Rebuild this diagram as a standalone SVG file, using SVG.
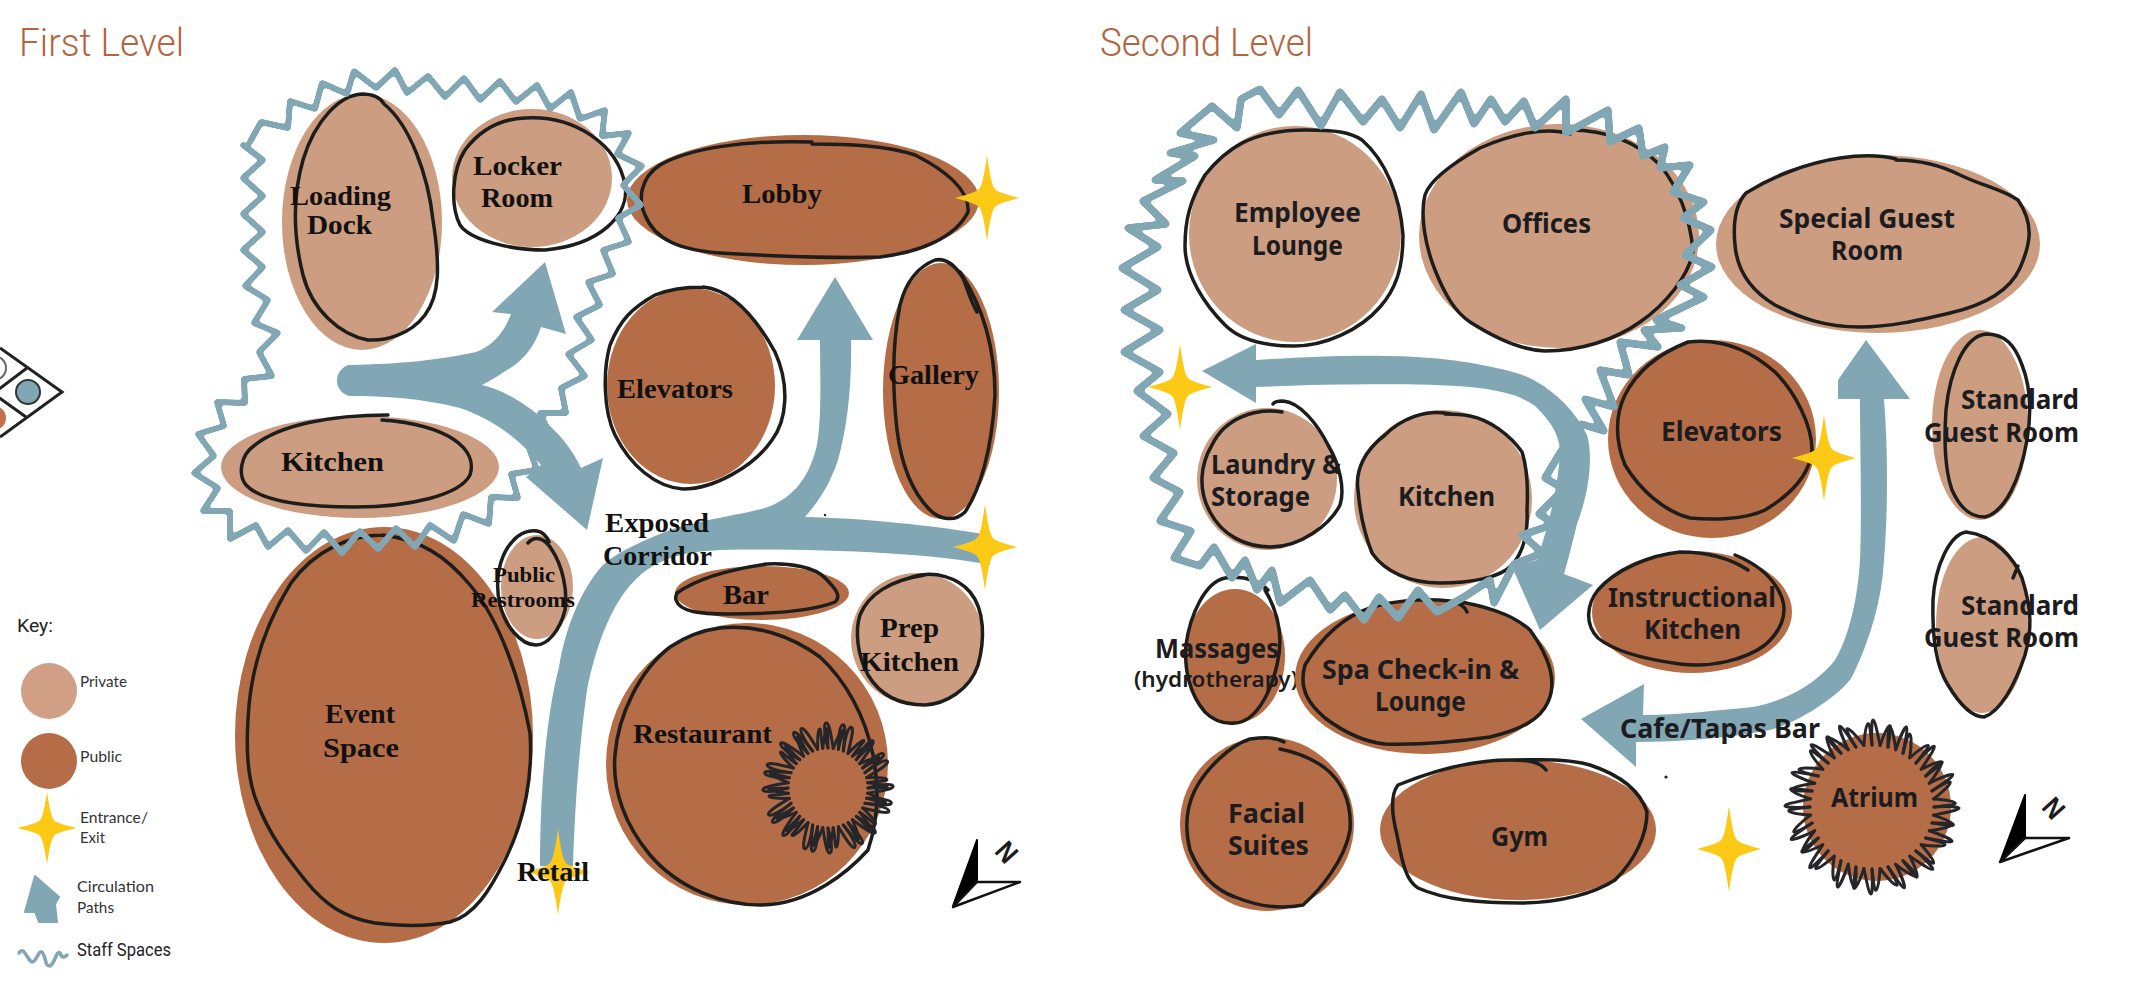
<svg xmlns="http://www.w3.org/2000/svg" width="2133" height="993" viewBox="0 0 2133 993">
<style>
.pv{fill:#CC9D80}.pb{fill:#B46D46}
.ink{fill:none;stroke:#1d1d1b;stroke-width:3.5;stroke-linecap:round;stroke-linejoin:round}
.sc{fill:none;stroke:#26262a;stroke-width:3;stroke-linejoin:round;stroke-linecap:round}
.wave{fill:none;stroke:#82A7B4;stroke-linejoin:round;stroke-linecap:round}
.arr{fill:#82A7B4}.st{fill:#FCC917}
text{font-family:"Liberation Sans",sans-serif;fill:#1c1c20}
.a{font-family:"Liberation Serif",serif;font-weight:700;font-size:28px;fill:#111}
.a2{font-family:"Liberation Serif",serif;font-weight:700;font-size:21px;fill:#111}
.b{font-family:"Noto Sans",sans-serif;font-weight:700;font-size:27px}
.b2{font-family:"Noto Sans",sans-serif;font-weight:600;font-size:22px}
.t{font-family:Roboto,sans-serif;font-weight:300;font-size:38px;fill:#B3653F}
.k{font-family:Lato,sans-serif;font-size:16px;fill:#333}
.k2{font-family:Roboto,sans-serif;font-size:18px;fill:#222}
</style>
<defs>
<filter id="soft" filterUnits="userSpaceOnUse" x="0" y="0" width="2133" height="993" color-interpolation-filters="sRGB">
<feGaussianBlur stdDeviation="1.7"/>
<feComponentTransfer><feFuncA type="linear" slope="7" intercept="-2.9"/></feComponentTransfer>
</filter>
<path id="star" d="M0 -43C3 -22 5 -11 9 -8C13 -5 22 -3 32 0C22 3 13 5 9 8C5 11 3 22 0 43C-3 22 -5 11 -9 8C-13 5 -22 3 -32 0C-22 -3 -13 -5 -9 -8C-5 -11 -3 -22 0 -43Z"/>
<path id="spA" d="M62 0C76 -1 86 0 87 1C87 3 76 5 61.5 8.1"/>
<path id="spB" d="M62 0C72 2 82 5 83 7C83 9 74 8 61.5 8.1"/>
<path id="spE" d="M62 0C72 -3 80 -5 82 -4C83 -2 72 4 61.5 8.1"/>
<g id="atr"><use href="#spA"/><use href="#spB" transform="rotate(7.5)"/><use href="#spE" transform="rotate(15)"/><use href="#spA" transform="rotate(22.5)"/><use href="#spE" transform="rotate(30)"/><use href="#spB" transform="rotate(37.5)"/></g>
<path id="spC" d="M40 0C50 -3 64 -5 65 -2C66 1 54 3 39.7 5.2"/>
<path id="spD" d="M40 0C48 2 58 5 59 7C60 9 52 6 39.7 5.2"/>
<g id="res"><use href="#spC"/><use href="#spD" transform="rotate(7.5)"/><use href="#spC" transform="rotate(15)"/><use href="#spC" transform="rotate(22.5)"/><use href="#spD" transform="rotate(30)"/><use href="#spD" transform="rotate(37.5)"/></g>
</defs>
<rect width="2133" height="993" fill="#fff"/>

<text class="t" x="19" y="56" textLength="165" lengthAdjust="spacingAndGlyphs">First Level</text>
<text class="t" x="1100" y="56" textLength="213" lengthAdjust="spacingAndGlyphs">Second Level</text>

<g id="fragment" fill="none" stroke="#222" stroke-width="3">
<circle cx="-6" cy="368" r="12" fill="#fff" stroke="#666" stroke-width="2"/>
<circle cx="-6" cy="418" r="12" fill="#C66E4C" stroke="none"/>
<circle cx="28" cy="392" r="12" fill="#82A7B4" stroke="#333" stroke-width="2"/>
<path d="M0 348L62 392L0 437M27 368L-2 390M26 417L-2 397"/>
</g>

<g id="key">
<text class="k2" x="17" y="632" textLength="36" lengthAdjust="spacingAndGlyphs">Key:</text>
<circle cx="49" cy="691" r="28" fill="#D09F85"/>
<text class="k" x="80" y="687" textLength="47" lengthAdjust="spacingAndGlyphs">Private</text>
<circle cx="49" cy="761" r="28" class="pb"/>
<text class="k" x="80" y="762" textLength="42" lengthAdjust="spacingAndGlyphs">Public</text>
<use href="#star" class="st" transform="translate(47 828) scale(.92 .84)"/>
<text class="k" x="80" y="823" textLength="68" lengthAdjust="spacingAndGlyphs">Entrance/</text>
<text class="k" x="80" y="843" textLength="25" lengthAdjust="spacingAndGlyphs">Exit</text>
<path class="arr" d="M35 876L59 897L55 904L57 922L39 922L35 912L25 912Z" stroke="#82A7B4" stroke-width="2" stroke-linejoin="round"/>
<text class="k" x="77" y="892" textLength="77" lengthAdjust="spacingAndGlyphs">Circulation</text>
<text class="k" x="77" y="913" textLength="37" lengthAdjust="spacingAndGlyphs">Paths</text>
<path class="wave" stroke-width="3.5" d="M19 953C24 945 27 960 32 962C37 962 38 950 42 952C47 958 44 966 50 966C56 962 56 950 60 953C62 958 64 958 67 955"/>
<text class="k2" x="77" y="956" textLength="94" lengthAdjust="spacingAndGlyphs">Staff Spaces</text>
</g>

<g id="node-loading-dock"><ellipse class="pv" cx="362" cy="222" rx="80" ry="128"/>
<path class="ink" d="M384 104C410 125 428 175 433 220C440 265 440 295 425 315C410 335 385 341 368 340C340 335 312 310 303 275C293 235 293 195 303 160C315 120 340 95 362 94C372 94 380 97 384 104"/>
<text class="a" x="290" y="205" textLength="101" lengthAdjust="spacingAndGlyphs">Loading</text><text class="a" x="307" y="234" textLength="65" lengthAdjust="spacingAndGlyphs">Dock</text></g>
<g id="node-locker-room"><ellipse class="pv" cx="532" cy="178" rx="80" ry="69"/>
<path class="ink" d="M525 118C575 115 618 145 625 185C630 215 600 245 545 250C510 250 470 240 460 225C450 205 452 170 465 150C480 130 500 119 525 118Z"/>
<text class="a" x="473" y="175" textLength="89" lengthAdjust="spacingAndGlyphs">Locker</text><text class="a" x="481" y="207" textLength="72" lengthAdjust="spacingAndGlyphs">Room</text></g>
<g id="node-kitchen-1"><ellipse class="pv" cx="360" cy="467" rx="139" ry="51"/>
<path class="ink" d="M388 415C330 415 280 425 255 445C240 455 238 475 246 485C260 500 300 507 355 507C410 507 460 495 470 475C478 450 450 425 382 420"/>
<text class="a" x="281" y="471" textLength="103" lengthAdjust="spacingAndGlyphs">Kitchen</text></g>
<g id="node-event-space"><ellipse class="pb" cx="384" cy="735" rx="149" ry="208"/>
<path class="ink" d="M383 535C420 540 445 555 470 585C500 620 520 680 530 733C533 775 525 820 505 860C490 890 475 915 450 922C425 927 400 926 375 923C345 918 325 905 305 880C285 855 270 835 258 805C247 780 246 750 248 720C250 670 265 625 291 583C315 550 350 535 383 535"/>
<text class="a" x="325" y="723" textLength="70" lengthAdjust="spacingAndGlyphs">Event</text><text class="a" x="323" y="757" textLength="76" lengthAdjust="spacingAndGlyphs">Space</text></g>
<g id="node-public-restrooms"><ellipse class="pv" cx="537" cy="587" rx="36" ry="52"/>
<path class="ink" d="M528 543C535 535 545 538 552 550C562 565 568 590 565 610C560 630 548 645 536 645C520 645 505 625 500 605C494 580 500 555 512 542C520 532 530 530 537 531C543 532 547 537 549 542"/>
<text class="a2" x="493" y="582" textLength="62" lengthAdjust="spacingAndGlyphs">Public</text><text class="a2" x="471" y="607" textLength="104" lengthAdjust="spacingAndGlyphs">Restrooms</text></g>
<g id="node-lobby"><ellipse class="pb" cx="803" cy="200" rx="176" ry="65"/>
<path class="ink" d="M812 142C745 140 690 148 660 165C640 178 638 200 645 215C655 240 680 250 720 253C790 257 850 258 880 257C920 252 955 238 968 212C970 190 945 170 915 155C885 145 845 144 812 144"/>
<text class="a" x="742" y="203" textLength="80" lengthAdjust="spacingAndGlyphs">Lobby</text></g>
<g id="node-elevators-1"><ellipse class="pb" cx="691" cy="386" rx="84" ry="98"/>
<path class="ink" d="M703 287C735 290 760 325 775 352C790 385 787 420 772 440C755 465 715 489 683 489C655 487 630 465 615 435C603 410 603 370 610 345C620 320 632 308 655 295C670 289 685 287 703 287"/>
<text class="a" x="617" y="398" textLength="116" lengthAdjust="spacingAndGlyphs">Elevators</text></g>
<g id="node-gallery"><ellipse class="pb" cx="941" cy="391" rx="58" ry="128"/>
<path class="ink" d="M977 312C970 300 968 290 963 278C955 265 945 258 935 260C915 268 905 285 900 305C893 340 892 385 897 430C902 470 915 495 930 510C940 520 955 522 965 512C980 490 992 450 995 395C995 350 985 310 960 272"/>
<text class="a" x="888" y="384" textLength="91" lengthAdjust="spacingAndGlyphs">Gallery</text></g>
<g id="node-bar"><ellipse class="pb" cx="762" cy="593" rx="87" ry="27"/>
<path class="ink" d="M677 593C695 580 725 570 767 564C790 563 815 567 825 578C835 588 842 596 835 602C815 610 775 614 727 614C700 614 680 612 676 600C675 597 676 595 677 593"/>
<text class="a" x="723" y="604" textLength="46" lengthAdjust="spacingAndGlyphs">Bar</text></g>
<g id="node-prep-kitchen"><circle class="pv" cx="917" cy="639" r="66"/>
<path class="ink" d="M912 577C935 570 958 578 970 592C985 610 985 640 978 665C970 690 945 704 925 705C900 705 880 695 868 675C857 655 855 630 860 615C868 595 890 580 925 575"/>
<text class="a" x="880" y="637" textLength="59" lengthAdjust="spacingAndGlyphs">Prep</text><text class="a" x="860" y="671" textLength="99" lengthAdjust="spacingAndGlyphs">Kitchen</text></g>
<g id="node-restaurant"><circle class="pb" cx="747" cy="764" r="141"/>
<path class="ink" d="M720 628C755 624 790 635 820 657C845 680 865 715 873 755C880 790 878 820 868 850C850 870 810 905 760 905C725 905 680 890 650 855C625 825 612 790 615 755C618 715 640 670 670 647C688 635 703 630 720 628"/>
<g class="sc" transform="translate(828 788)"><use href="#res"/><use href="#res" transform="rotate(45)"/><use href="#res" transform="rotate(90)"/><use href="#res" transform="rotate(135)"/><use href="#res" transform="rotate(180)"/><use href="#res" transform="rotate(225)"/><use href="#res" transform="rotate(270)"/><use href="#res" transform="rotate(315)"/></g>
<text class="a" x="633" y="743" textLength="139" lengthAdjust="spacingAndGlyphs">Restaurant</text></g>

<g id="node-employee-lounge"><ellipse class="pv" cx="1295" cy="234" rx="106" ry="108"/>
<path class="ink" d="M1306 130C1335 130 1350 132 1362 140C1385 160 1400 195 1403 235C1403 270 1395 290 1380 307C1360 330 1325 346 1294 346C1265 346 1240 340 1225 325C1205 305 1185 275 1185 246C1185 220 1190 200 1205 175C1225 150 1250 130 1306 130"/>
<text class="b" x="1234" y="222" textLength="127" lengthAdjust="spacingAndGlyphs">Employee</text><text class="b" x="1252" y="255" textLength="91" lengthAdjust="spacingAndGlyphs">Lounge</text></g>
<g id="node-offices"><ellipse class="pv" cx="1559" cy="236" rx="140" ry="112"/>
<path class="ink" d="M1570 134C1545 126 1510 135 1480 148C1455 162 1430 180 1425 195C1420 215 1425 245 1435 270C1445 295 1455 312 1470 322C1495 338 1520 350 1545 351C1580 351 1615 340 1640 322C1665 305 1690 275 1693 250C1690 220 1680 190 1660 165C1640 145 1610 130 1570 130"/>
<text class="b" x="1502" y="233" textLength="89" lengthAdjust="spacingAndGlyphs">Offices</text></g>
<g id="node-special-guest-room"><ellipse class="pv" cx="1878" cy="244" rx="162" ry="89"/>
<path class="ink" d="M1896 159C1880 155 1860 155 1840 158C1805 163 1770 178 1746 193C1735 205 1733 225 1735 245C1737 270 1750 290 1775 305C1800 318 1825 327 1860 327C1890 327 1920 320 1950 313C1985 305 2010 290 2020 268C2030 245 2035 225 2018 200C2000 188 1985 187 1960 175C1940 165 1920 160 1896 160"/>
<text class="b" x="1779" y="228" textLength="176" lengthAdjust="spacingAndGlyphs">Special Guest</text><text class="b" x="1831" y="260" textLength="72" lengthAdjust="spacingAndGlyphs">Room</text></g>
<g id="node-elevators-2"><ellipse class="pb" cx="1712" cy="439" rx="104" ry="99"/>
<path class="ink" d="M1688 342C1720 338 1750 350 1775 372C1795 392 1812 425 1812 450C1810 475 1790 495 1765 510C1745 520 1710 520 1690 518C1665 512 1640 490 1625 465C1615 440 1615 415 1625 395C1635 375 1655 355 1688 342"/>
<text class="b" x="1661" y="441" textLength="121" lengthAdjust="spacingAndGlyphs">Elevators</text></g>
<g id="node-standard-1"><ellipse class="pv" cx="1980" cy="425" rx="48" ry="95"/>
<path class="ink" d="M1986 334C1965 336 1950 370 1946 410C1944 440 1945 470 1952 490C1960 508 1970 517 1985 517C2005 512 2020 480 2027 440C2032 410 2030 385 2022 365C2015 345 2005 334 1986 334Z"/>
<text class="b" x="1961" y="409" textLength="118" lengthAdjust="spacingAndGlyphs">Standard</text><text class="b" x="1924" y="442" textLength="155" lengthAdjust="spacingAndGlyphs">Guest Room</text></g>
<g id="node-standard-2"><ellipse class="pv" cx="1982" cy="625" rx="46" ry="88"/>
<path class="ink" d="M2013 578L2018 566M2022 578C2015 560 1995 535 1966 532C1950 535 1935 565 1933 600C1932 635 1935 665 1948 685C1960 705 1972 717 1984 717C2000 712 2015 685 2025 655C2032 630 2032 610 2022 578"/>
<text class="b" x="1961" y="615" textLength="118" lengthAdjust="spacingAndGlyphs">Standard</text><text class="b" x="1924" y="647" textLength="155" lengthAdjust="spacingAndGlyphs">Guest Room</text></g>
<g id="node-laundry"><ellipse class="pv" cx="1267" cy="479" rx="70" ry="71"/>
<path class="ink" d="M1282 412C1255 408 1225 418 1212 445C1200 465 1198 490 1210 512C1222 535 1245 547 1271 547C1300 547 1330 525 1340 505C1345 490 1340 465 1328 445C1318 425 1300 402 1283 401C1278 401 1274 402 1273 404"/>
<text class="b" x="1211" y="474" textLength="130" lengthAdjust="spacingAndGlyphs">Laundry &amp;</text><text class="b" x="1211" y="506" textLength="99" lengthAdjust="spacingAndGlyphs">Storage</text></g>
<g id="node-kitchen-2"><circle class="pv" cx="1443" cy="499" r="89"/>
<path class="ink" d="M1451 414C1425 408 1400 420 1385 435C1365 450 1355 470 1358 490C1360 515 1365 535 1372 553C1385 572 1410 583 1440 583C1470 583 1500 578 1512 565C1525 550 1528 530 1527 510C1528 490 1528 470 1522 452C1510 435 1490 420 1470 416C1460 414 1452 414 1445 414"/>
<text class="b" x="1398" y="506" textLength="97" lengthAdjust="spacingAndGlyphs">Kitchen</text></g>
<g id="node-instructional-kitchen"><ellipse class="pb" cx="1692" cy="612" rx="100" ry="61"/>
<path class="ink" d="M1748 570C1725 555 1700 552 1680 552C1650 555 1615 570 1598 590C1586 605 1585 625 1598 638C1615 652 1650 660 1680 664C1710 668 1745 660 1765 645C1780 632 1788 615 1782 598C1775 580 1760 565 1735 555"/>
<text class="b" x="1608" y="607" textLength="168" lengthAdjust="spacingAndGlyphs">Instructional</text><text class="b" x="1644" y="639" textLength="97" lengthAdjust="spacingAndGlyphs">Kitchen</text></g>
<g id="node-massages"><ellipse class="pb" cx="1235" cy="656" rx="50" ry="67"/>
<path class="ink" d="M1268 590C1255 578 1240 576 1225 578C1205 582 1190 615 1186 645C1184 670 1190 695 1205 712C1215 722 1225 724 1235 723C1255 722 1270 695 1277 665C1283 640 1280 615 1265 590"/>
<text class="b" x="1155" y="658" textLength="124" lengthAdjust="spacingAndGlyphs">Massages</text><text class="b2" x="1134" y="687" textLength="164" lengthAdjust="spacingAndGlyphs">(hydrotherapy)</text></g>
<g id="node-spa"><ellipse class="pb" cx="1425" cy="677" rx="130" ry="77"/>
<path class="ink" d="M1467 612C1465 607 1462 604 1450 601C1425 598 1395 600 1370 608C1340 618 1320 640 1305 665C1298 690 1310 705 1325 718C1345 733 1365 742 1385 744C1420 745 1455 742 1490 737C1520 730 1540 720 1548 702C1558 680 1548 655 1530 630C1510 612 1480 605 1455 601"/>
<text class="b" x="1322" y="679" textLength="197" lengthAdjust="spacingAndGlyphs">Spa Check-in &amp;</text><text class="b" x="1375" y="711" textLength="91" lengthAdjust="spacingAndGlyphs">Lounge</text></g>
<g id="node-facial"><circle class="pb" cx="1267" cy="824" r="87"/>
<path class="ink" d="M1284 742C1275 737 1265 737 1250 739C1230 745 1205 770 1195 790C1185 810 1185 830 1190 850C1200 875 1215 890 1235 897C1255 905 1280 910 1303 905C1320 890 1345 860 1350 830C1352 800 1340 780 1325 768C1310 757 1295 752 1280 749"/>
<text class="b" x="1228" y="823" textLength="77" lengthAdjust="spacingAndGlyphs">Facial</text><text class="b" x="1228" y="855" textLength="81" lengthAdjust="spacingAndGlyphs">Suites</text></g>
<g id="node-gym"><ellipse class="pb" cx="1518" cy="830" rx="138" ry="70"/>
<path class="ink" d="M1546 770C1540 762 1530 760 1510 760C1470 760 1430 772 1398 785C1390 795 1392 815 1397 835C1402 860 1405 880 1418 888C1445 900 1480 903 1521 903C1560 903 1595 893 1615 880C1635 860 1647 835 1647 812C1640 790 1620 775 1590 765C1565 758 1540 760 1510 760"/>
<text class="b" x="1491" y="846" textLength="57" lengthAdjust="spacingAndGlyphs">Gym</text></g>
<g id="node-atrium"><circle class="pb" cx="1877" cy="807" r="74"/>
<g class="sc" transform="translate(1872 807)"><use href="#atr"/><use href="#atr" transform="rotate(45)"/><use href="#atr" transform="rotate(90)"/><use href="#atr" transform="rotate(135)"/><use href="#atr" transform="rotate(180)"/><use href="#atr" transform="rotate(225)"/><use href="#atr" transform="rotate(270)"/><use href="#atr" transform="rotate(315)"/></g>
<text class="b" x="1831" y="807" textLength="87" lengthAdjust="spacingAndGlyphs">Atrium</text></g>

<g id="connectors">
<g filter="url(#soft)">
<polyline class="wave" stroke-width="6" points="250,142 261,122 288,128 290,101 315,109 322,83 347,94 354,71 376,88 395,70 407,93 428,76 445,97 464,78 480,100 500,81 516,102 537,85 550,109 571,92 580,119 605,110 602,136 629,133 617,154 642,166 623,185 641,205 618,218 629,242 603,250 613,274 588,282 600,305 576,317 592,340 568,354 585,376 561,388 566,413 540,413 553,441 528,445 537,470 511,474 518,498 491,497 489,524 463,514 454,541 430,525 415,547 396,528 378,549 360,531 342,553 324,532 306,551 288,530 268,547 256,525 230,539 230,511 203,511 218,488 194,473 214,456 198,434 224,426 217,402 245,403 244,379 272,376 259,352 278,333 254,323 268,300 245,286 263,267 243,250 263,232 243,214 263,196 243,178 263,160 243,145"/>
<polyline class="wave" stroke-width="7.5" points="1212,106 1237,128 1241,99 1260,89 1279,115 1298,90 1321,126 1340,92 1363,122 1382,99 1400,128 1421,94 1434,130 1461,92 1474,124 1491,99 1505,122 1524,101 1535,128 1566,99 1566,133 1608,110 1610,142 1639,128 1643,156 1665,147 1660,168 1690,165 1673,192 1704,202 1683,218 1711,230 1685,255 1712,267 1680,285 1704,297 1656,320 1682,328 1644,330 1658,347 1620,342 1629,375 1600,370 1614,407 1585,399 1604,431 1581,424 1560,453 1545,478 1564,489 1539,514 1555,524 1522,535 1543,553 1514,564 1494,603 1490,580 1464,597 1437,612 1418,590 1398,618 1379,597 1364,620 1345,595 1330,610 1310,580 1280,603 1272,570 1257,590 1245,560 1232,578 1214,547 1200,566 1174,558 1191,531 1160,521 1180,492 1153,478 1174,453 1143,436 1168,414 1137,391 1160,372 1124,352 1160,330 1124,310 1158,290 1122,268 1158,247 1128,228 1166,224 1143,201 1183,181 1155,180 1195,156 1170,153 1214,140 1180,133 1212,106"/>
</g>
<path class="arr" d="M349 365C400 364 440 360 476 352C495 345 505 330 511 314L492 312L545 262L566 334L541 327C535 345 525 360 507 370C498 376 490 381 482 385C510 392 535 410 552 428C565 440 575 455 581 468L603 458L587 530L526 477L541 465C520 440 495 420 460 408C420 398 385 396 349 396A16 16 0 0 1 349 365Z"/>
<path class="arr" d="M540 866C540 800 545 720 559 667C565 630 580 590 603 565C620 550 645 540 670 530C700 520 740 515 765 508C795 498 810 475 817 445C822 415 820 370 820 340L797 340L835 277L873 340L851 340C852 380 848 425 838 460C828 490 815 505 805 517C860 518 930 525 990 535L990 565C930 552 800 548 720 550C680 552 655 560 635 580C610 605 595 650 587 690C580 740 575 800 573 866Z"/>
<path class="arr" d="M1202 371L1256 344L1256 360C1300 357 1350 355 1386 356C1430 356 1480 362 1520 374C1550 385 1575 410 1587 435C1593 455 1590 490 1577 524C1572 545 1568 560 1564 574L1593 585L1540 630L1512 567L1537 560C1547 530 1558 490 1560 453C1560 440 1555 425 1535 406C1520 395 1500 390 1470 387C1420 383 1330 384 1256 387L1256 403Z"/>
<path class="arr" d="M1866 340L1910 399L1884 399C1888 450 1888 510 1884 560C1882 600 1870 640 1852 677C1840 695 1800 722 1770 730C1730 738 1680 742 1636 742L1636 767L1581 719L1644 684L1643 715C1680 715 1720 710 1753 707C1790 700 1820 680 1835 660C1850 635 1858 595 1860 560C1862 510 1860 450 1860 399L1838 399L1838 380Z"/>
</g>

<g id="entrances" class="st">
<use href="#star" x="987" y="198"/>
<use href="#star" x="985" y="547"/>
<use href="#star" x="558" y="872"/>
<use href="#star" x="1180" y="387"/>
<use href="#star" x="1824" y="458"/>
<use href="#star" x="1729" y="849"/>
</g>

<g id="corridor-label"><text class="a" x="605" y="532" textLength="104" lengthAdjust="spacingAndGlyphs">Exposed</text><text class="a" x="603" y="565" textLength="109" lengthAdjust="spacingAndGlyphs">Corridor</text></g>
<g id="retail-label"><text class="a" x="517" y="881" textLength="72" lengthAdjust="spacingAndGlyphs">Retail</text></g>
<g id="cafe-label"><text class="b" x="1620" y="738" textLength="200" lengthAdjust="spacingAndGlyphs">Cafe/Tapas Bar</text></g>

<g id="north-1">
<path d="M977 840L977 880L953 906Z" fill="#000" stroke="#000" stroke-width="2" stroke-linejoin="round"/>
<path d="M977 882L1020 882L953 907Z" fill="#fff" stroke="#111" stroke-width="2.5" stroke-linejoin="round"/>
<text x="0" y="0" transform="translate(1007 852) rotate(48) translate(-9 10)" font-size="28" font-weight="700" textLength="18" lengthAdjust="spacingAndGlyphs">N</text>
</g>
<g id="north-2">
<path d="M2025 795L2025 837L2000 862Z" fill="#000" stroke="#000" stroke-width="2" stroke-linejoin="round"/>
<path d="M2025 838L2069 838L2000 862Z" fill="#fff" stroke="#111" stroke-width="2.5" stroke-linejoin="round"/>
<text x="0" y="0" transform="translate(2054 808) rotate(48) translate(-9 10)" font-size="28" font-weight="700" textLength="18" lengthAdjust="spacingAndGlyphs">N</text>
</g>
<circle cx="825" cy="515" r="1.2" fill="#222"/><circle cx="1666" cy="777" r="1.6" fill="#222"/>
</svg>
